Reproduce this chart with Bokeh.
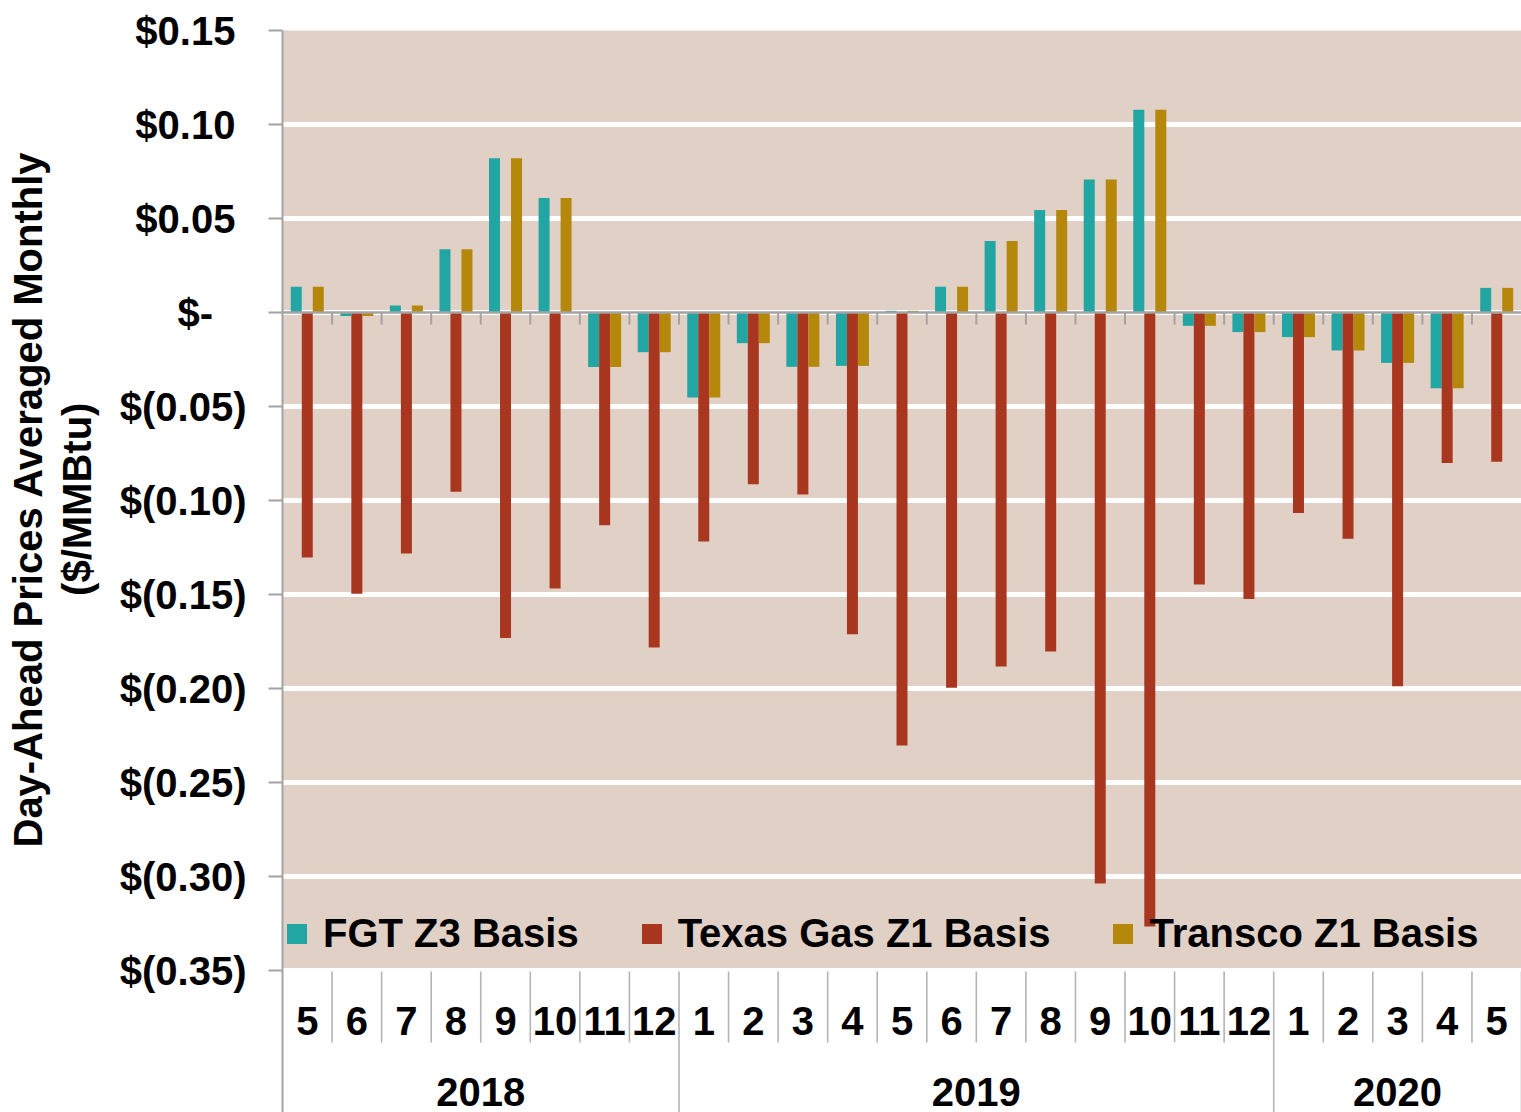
from bokeh.plotting import figure
from bokeh.models import (Range1d, FixedTicker, Span, ColumnDataSource, Legend,
                          LegendItem, BoxAnnotation)
from bokeh.transform import dodge
from bokeh.embed import file_html
from bokeh.resources import INLINE
from bokeh.core.properties import value

# ---------------- data ----------------
years = ["2018"] * 8 + ["2019"] * 12 + ["2020"] * 5
months = ["5", "6", "7", "8", "9", "10", "11", "12",
          "1", "2", "3", "4", "5", "6", "7", "8", "9", "10", "11", "12",
          "1", "2", "3", "4", "5"]
fgt_z3 = [0.0137, -0.0019, 0.0037, 0.0337, 0.0821, 0.0609, -0.0290, -0.0211,
          -0.0452, -0.0163, -0.0289, -0.0284, 0.0009, 0.0137, 0.0380, 0.0545,
          0.0707, 0.1078, -0.0071, -0.0104,
          -0.0131, -0.0202, -0.0268, -0.0403, 0.0131]
texas_z1 = [-0.1303, -0.1496, -0.1282, -0.0954, -0.1732, -0.1468, -0.1131, -0.1782,
            -0.1218, -0.0913, -0.0968, -0.1711, -0.2303, -0.1996, -0.1883, -0.1803,
            -0.3037, -0.3266, -0.1447, -0.1524,
            -0.1066, -0.1203, -0.1988, -0.0801, -0.0794]
transco_z1 = [0.0137, -0.0019, 0.0037, 0.0337, 0.0821, 0.0609, -0.0290, -0.0211,
              -0.0452, -0.0163, -0.0289, -0.0284, 0.0009, 0.0137, 0.0380, 0.0545,
              0.0707, 0.1078, -0.0071, -0.0104,
              -0.0131, -0.0202, -0.0268, -0.0403, 0.0131]
series_names = ["FGT Z3 Basis", "Texas Gas Z1 Basis", "Transco Z1 Basis"]
y_ticks = [0.15, 0.10, 0.05, 0.0, -0.05, -0.10, -0.15, -0.20, -0.25, -0.30, -0.35]
y_tick_labels = ["$0.15\u00a0", "$0.10\u00a0", "$0.05\u00a0", "$-\u00a0\u00a0\u00a0",
                 "$(0.05)", "$(0.10)", "$(0.15)", "$(0.20)", "$(0.25)",
                 "$(0.30)", "$(0.35)"]
y_title_lines = ["Day-Ahead Prices Averaged Monthly", "($/MMBtu)"]

# ---------------- style / layout ----------------
FONT = "Liberation Sans"
BROWN = "#e0d0c5"
TEAL = "#22a6a3"
RED = "#a9361f"
GOLD = "#b5880c"
GRAY = "#a3a3a3"
SEP = "#b4b4b4"

W = 1521
H = 1112
LEFT = 282
TOP_B = 30
PLOT_PX = 940            # pixel height of the value area (0.15 .. -0.35)
Y_MAX, Y_MIN = max(y_ticks), min(y_ticks)
SCALE = PLOT_PX / (Y_MAX - Y_MIN)     # px per $
BAR_W = 0.222


def below(px):
    """value coordinate `px` pixels below the bottom of the value area"""
    return Y_MIN - px / SCALE


n = len(months)
centers = [i + 0.5 for i in range(n)]
src = ColumnDataSource(dict(x=centers, fgt=fgt_z3, tex=texas_z1, tra=transco_z1))

x_range = Range1d(0, n)
y_range = Range1d(Y_MAX - (H - TOP_B) / SCALE, Y_MAX)
p = figure(width=W, height=H, x_range=x_range, y_range=y_range,
           min_border_left=LEFT, min_border_right=0, min_border_top=TOP_B,
           min_border_bottom=0, x_axis_location=None, toolbar_location=None,
           output_backend="svg", background_fill_color=BROWN,
           border_fill_color="white", outline_line_color=None)

# white category-label area below the value area
p.add_layout(BoxAnnotation(top=Y_MIN, fill_color="white", fill_alpha=1,
                           line_color=None, level="underlay"))

p.xgrid.grid_line_color = None
p.ygrid.grid_line_color = "white"
p.ygrid.grid_line_width = 5

# axis title: centred on the value area (frame extends below it)
shift_px = ((H - TOP_B) - PLOT_PX)      # label centre must move up by half this
pad = "\u00a0" * round(shift_px / 11.12)
y_title = "\n".join(pad + t for t in y_title_lines)

ya = p.yaxis[0]
ya.ticker = FixedTicker(ticks=y_ticks, minor_ticks=[])
ya.major_label_overrides = dict(zip(y_ticks, y_tick_labels))
ya.axis_line_color = GRAY
ya.axis_line_width = 2
ya.major_tick_line_color = GRAY
ya.major_tick_line_width = 2
ya.major_tick_out = 14
ya.major_tick_in = 0
ya.minor_tick_line_color = None
ya.major_label_standoff = 22
ya.major_label_text_font = FONT
ya.major_label_text_font_size = "40px"
ya.major_label_text_font_style = "bold"
ya.major_label_text_color = "black"
ya.axis_label = y_title
ya.axis_label_text_font = FONT
ya.axis_label_text_font_size = "40px"
ya.axis_label_text_font_style = "bold"
ya.axis_label_text_color = "black"
ya.axis_label_text_line_height = 1.1
ya.axis_label_standoff = 18

r1 = p.vbar(x=dodge("x", -BAR_W, range=x_range), top="fgt", bottom=0, width=BAR_W,
            source=src, fill_color=TEAL, line_color=None)
r2 = p.vbar(x="x", top="tex", bottom=0, width=BAR_W,
            source=src, fill_color=RED, line_color=None)
r3 = p.vbar(x=dodge("x", BAR_W, range=x_range), top="tra", bottom=0, width=BAR_W,
            source=src, fill_color=GOLD, line_color=None)

# zero (category) axis line with tick marks between categories
p.add_layout(Span(location=0, dimension="width", line_color=GRAY, line_width=2.5))
tick_len = 12 / SCALE
bounds = list(range(1, n))
p.segment(x0=bounds, x1=bounds, y0=[0] * len(bounds), y1=[-tick_len] * len(bounds),
          line_color=GRAY, line_width=2)

legend = Legend(items=[LegendItem(label=series_names[0], renderers=[r1]),
                       LegendItem(label=series_names[1], renderers=[r2]),
                       LegendItem(label=series_names[2], renderers=[r3])],
                orientation="horizontal",
                location=(2, 14 + (H - TOP_B - PLOT_PX)),
                glyph_width=25, glyph_height=25, label_standoff=14, spacing=60,
                padding=0, margin=0, background_fill_alpha=0,
                border_line_color=None,
                label_text_font=FONT, label_text_font_size="40px",
                label_text_font_style="bold", label_text_color="black")
p.add_layout(legend)

# ---------------- category labels and separators ----------------
year_bounds = [i for i in range(1, n) if years[i] != years[i - 1]] + [n]
month_bounds = [i for i in range(1, n) if i not in year_bounds]
p.segment(x0=month_bounds, x1=month_bounds, y0=[below(1)] * len(month_bounds),
          y1=[below(72)] * len(month_bounds), line_color=SEP, line_width=1.6)
p.segment(x0=year_bounds, x1=year_bounds, y0=[below(1)] * len(year_bounds),
          y1=[y_range.start] * len(year_bounds), line_color=SEP, line_width=1.6)

p.text(x=centers, y=[below(50)] * n, text=months, text_align="center",
       text_baseline="middle", text_font=value(FONT), text_font_size="40px",
       text_font_style="bold", text_color="black")

year_names = []
year_centers = []
for yname in dict.fromkeys(years):
    idx = [i for i, yv in enumerate(years) if yv == yname]
    year_names.append(yname)
    year_centers.append((idx[0] + idx[-1] + 1) / 2)
p.text(x=year_centers, y=[below(121)] * len(year_names), text=year_names,
       text_align="center", text_baseline="middle", text_font=value(FONT),
       text_font_size="40px", text_font_style="bold", text_color="black")

open("out.html", "w").write(file_html(p, INLINE))
